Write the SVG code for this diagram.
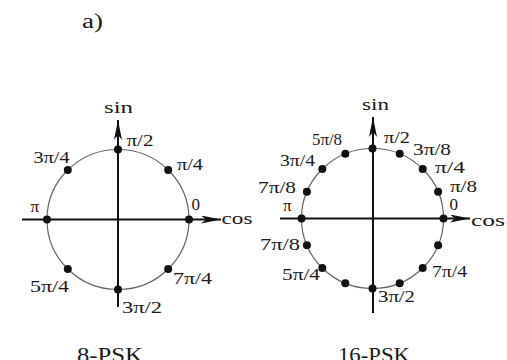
<svg xmlns="http://www.w3.org/2000/svg" width="507" height="360" viewBox="0 0 507 360">
<defs>
<style>
.t{font-family:"Liberation Serif","Times New Roman","DejaVu Serif",serif;fill:#1a1a1a;font-size:17px}
.big{font-size:20px}
.circ{fill:none;stroke:#666;stroke-width:1.2}
.axis{stroke:#111;stroke-width:2;fill:none}
.dot{fill:#111}
</style>
<marker id="arr" markerUnits="userSpaceOnUse" markerWidth="22" markerHeight="10" refX="20" refY="4" orient="auto">
<path d="M0,0 L20,4 L0,8 L5,4 Z" fill="#111"/>
</marker>
</defs>
<rect width="507" height="360" fill="#fff"/>
<g class="t" font-family="Liberation Serif, Times New Roman, serif">
<text class="big" x="82" y="28" textLength="21" lengthAdjust="spacingAndGlyphs">a)</text>
</g>

<g id="psk8" class="t" font-family="Liberation Serif, Times New Roman, serif">
<ellipse class="circ" cx="118" cy="219.5" rx="71" ry="70"/>
<g id="axes8">
<line class="axis" x1="22" y1="219.5" x2="221" y2="219.5" marker-end="url(#arr)"/>
<line class="axis" x1="118" y1="307" x2="118" y2="120" marker-end="url(#arr)"/>
</g>
<g id="dots8">
<circle class="dot" cx="189" cy="219.5" r="4"/>
<circle class="dot" cx="168.2" cy="170" r="4"/>
<circle class="dot" cx="118" cy="149.5" r="4"/>
<circle class="dot" cx="67.8" cy="170" r="4"/>
<circle class="dot" cx="47" cy="219.5" r="4"/>
<circle class="dot" cx="67.8" cy="269" r="4"/>
<circle class="dot" cx="118" cy="289.5" r="4"/>
<circle class="dot" cx="168.2" cy="269" r="4"/>
</g>
<text x="104" y="113" textLength="29" lengthAdjust="spacingAndGlyphs">sin</text>
<text x="126.5" y="146" textLength="27" lengthAdjust="spacingAndGlyphs">π/2</text>
<text x="33.5" y="163" textLength="36" lengthAdjust="spacingAndGlyphs">3π/4</text>
<text x="177" y="170" textLength="26" lengthAdjust="spacingAndGlyphs">π/4</text>
<text x="30.5" y="212">π</text>
<text x="191.5" y="210">0</text>
<text x="221.5" y="223.5" textLength="31" lengthAdjust="spacingAndGlyphs">cos</text>
<text x="30" y="292" textLength="39" lengthAdjust="spacingAndGlyphs">5π/4</text>
<text x="173" y="284" textLength="39" lengthAdjust="spacingAndGlyphs">7π/4</text>
<text x="122" y="313" textLength="40" lengthAdjust="spacingAndGlyphs">3π/2</text>
<text class="big" x="77" y="362" textLength="66" lengthAdjust="spacingAndGlyphs">8-PSK</text>
</g>

<g id="psk16" class="t" font-family="Liberation Serif, Times New Roman, serif">
<ellipse class="circ" cx="372.5" cy="218.5" rx="71" ry="70"/>
<g id="axes16">
<line class="axis" x1="280" y1="218.5" x2="470" y2="218.5" marker-end="url(#arr)"/>
<line class="axis" x1="373" y1="313" x2="373" y2="117" marker-end="url(#arr)"/>
</g>
<g id="dots16">
<circle class="dot" cx="443.5" cy="218.5" r="4"/>
<circle class="dot" cx="438.1" cy="191.7" r="4"/>
<circle class="dot" cx="422.7" cy="169" r="4"/>
<circle class="dot" cx="399.7" cy="153.8" r="4"/>
<circle class="dot" cx="372.5" cy="148.5" r="4"/>
<circle class="dot" cx="345.3" cy="153.8" r="4"/>
<circle class="dot" cx="322.3" cy="169" r="4"/>
<circle class="dot" cx="306.9" cy="191.7" r="4"/>
<circle class="dot" cx="301.5" cy="218.5" r="4"/>
<circle class="dot" cx="306.9" cy="245.3" r="4"/>
<circle class="dot" cx="322.3" cy="268" r="4"/>
<circle class="dot" cx="345.3" cy="283.2" r="4"/>
<circle class="dot" cx="372.5" cy="288.5" r="4"/>
<circle class="dot" cx="399.7" cy="283.2" r="4"/>
<circle class="dot" cx="422.7" cy="268" r="4"/>
<circle class="dot" cx="438.1" cy="245.3" r="4"/>
</g>
<text x="362" y="110" textLength="27" lengthAdjust="spacingAndGlyphs">sin</text>
<text x="312" y="145" textLength="30" lengthAdjust="spacingAndGlyphs">5π/8</text>
<text x="384" y="143" textLength="26" lengthAdjust="spacingAndGlyphs">π/2</text>
<text x="413" y="155" textLength="38" lengthAdjust="spacingAndGlyphs">3π/8</text>
<text x="280" y="166" textLength="35" lengthAdjust="spacingAndGlyphs">3π/4</text>
<text x="435" y="173" textLength="30" lengthAdjust="spacingAndGlyphs">π/4</text>
<text x="258" y="193" textLength="38" lengthAdjust="spacingAndGlyphs">7π/8</text>
<text x="450" y="192" textLength="27" lengthAdjust="spacingAndGlyphs">π/8</text>
<text x="283" y="211">π</text>
<text x="449.5" y="210">0</text>
<text x="471" y="226" textLength="34" lengthAdjust="spacingAndGlyphs">cos</text>
<text x="260" y="250" textLength="40" lengthAdjust="spacingAndGlyphs">7π/8</text>
<text x="282" y="280" textLength="38" lengthAdjust="spacingAndGlyphs">5π/4</text>
<text x="432" y="277" textLength="35" lengthAdjust="spacingAndGlyphs">7π/4</text>
<text x="378" y="302" textLength="37" lengthAdjust="spacingAndGlyphs">3π/2</text>
<text class="big" x="338" y="362" textLength="72" lengthAdjust="spacingAndGlyphs">16-PSK</text>
</g>
</svg>
